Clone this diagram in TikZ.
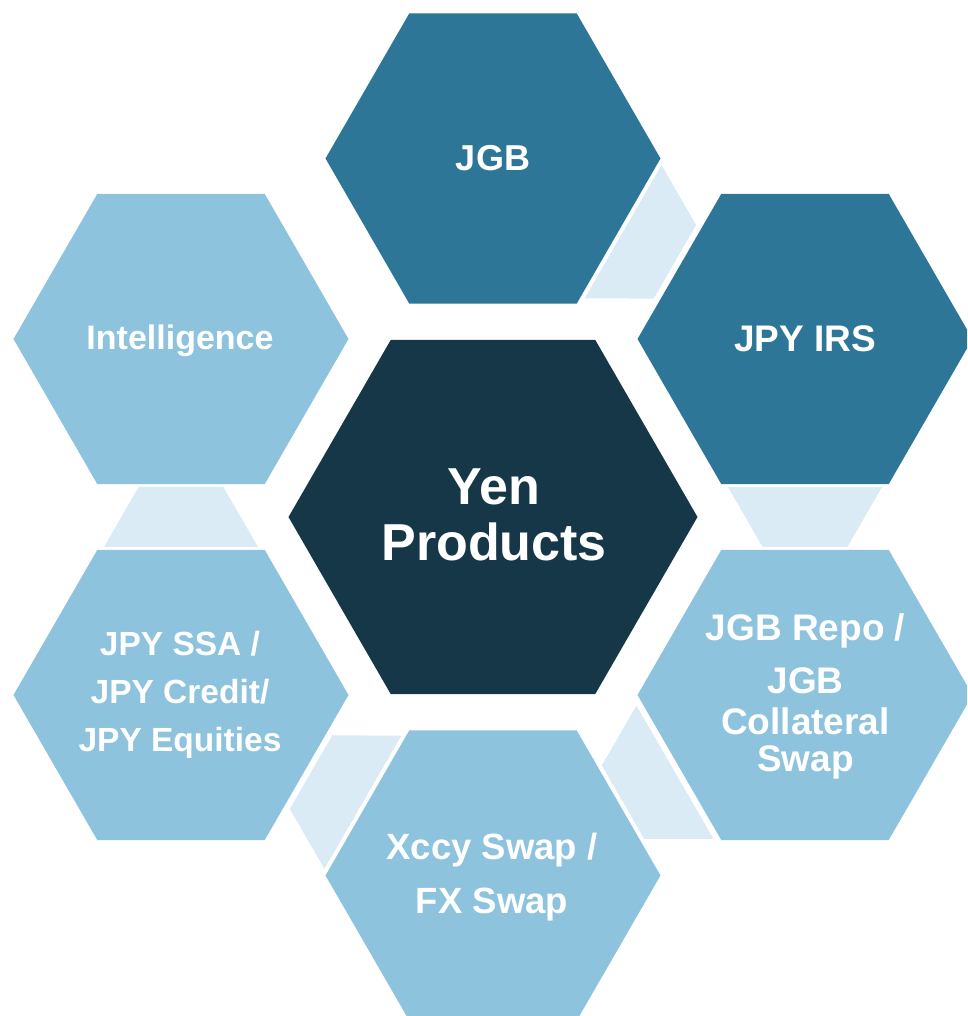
\documentclass[tikz,border=0pt]{standalone}
\usepackage{fontspec}
\setmainfont{Liberation Sans}
\usetikzlibrary{shapes.geometric}
\definecolor{midblue}{RGB}{46,118,152}
\definecolor{lightblue}{RGB}{141,195,221}
\definecolor{darkblue}{RGB}{22,55,72}
\definecolor{paleblue}{RGB}{218,235,245}
\begin{document}
\begin{tikzpicture}[x=1pt,y=1pt,
  hexa/.style={regular polygon, regular polygon sides=6, inner sep=0pt, outer sep=0pt, draw=none, minimum size=335pt},
  conn/.style={fill=paleblue},
  lbl/.style={text=white, align=center, anchor=base, inner sep=0pt}]
\useasboundingbox (-493,-499) rectangle (474,517);
\clip (-493,-499) rectangle (474,517);
% connectors (behind the hexagons)
\foreach \a in {60,0,-60,-120,180}
  \fill[conn, rotate=\a] (235,30) -- (389,30) -- (354.4,-30) -- (269.6,-30) -- cycle;
% hexagons
\node[hexa, fill=midblue] (jgb) at (0,358.5) {};
\node[hexa, fill=midblue] (irs) at (312,178) {};
\node[hexa, fill=lightblue] (repo) at (312,-178) {};
\node[hexa, fill=lightblue] (xccy) at (0,-358.5) {};
\node[hexa, fill=lightblue] (ssa) at (-312,-178) {};
\node[hexa, fill=lightblue] (intel) at (-312,178) {};
\node[hexa, fill=darkblue, minimum size=409pt] (yen) at (0,0) {};
% labels (anchor=base sits on the last line's baseline)
\node[lbl, font={\fontsize{36pt}{44pt}\selectfont\bfseries}] (tjgb) at (0,346) {JGB};
\node[lbl, font={\fontsize{37pt}{44pt}\selectfont\bfseries}] (tirs) at (312,165) {JPY IRS};
\node[lbl, font={\fontsize{34pt}{44pt}\selectfont\bfseries}] (tintel) at (-313,167) {Intelligence};
\node[lbl, font={\fontsize{33.5pt}{48pt}\selectfont\bfseries}] (tssa) at (-313,-234) {JPY SSA /\\JPY Credit/\\JPY Equities};
\node[lbl, font={\fontsize{37pt}{37pt}\selectfont\bfseries}] (trepo) at (312.5,-254) {JGB Repo /\\[16pt]JGB\\[4pt]Collateral\\Swap};
\node[lbl, font={\fontsize{36.5pt}{54pt}\selectfont\bfseries}] (txccy) at (-1,-396) {Xccy Swap /\\FX Swap};
\node[lbl, font={\fontsize{52pt}{56pt}\selectfont\bfseries}] (tyen) at (1,-44) {Yen\\Products};
\end{tikzpicture}
\end{document}
